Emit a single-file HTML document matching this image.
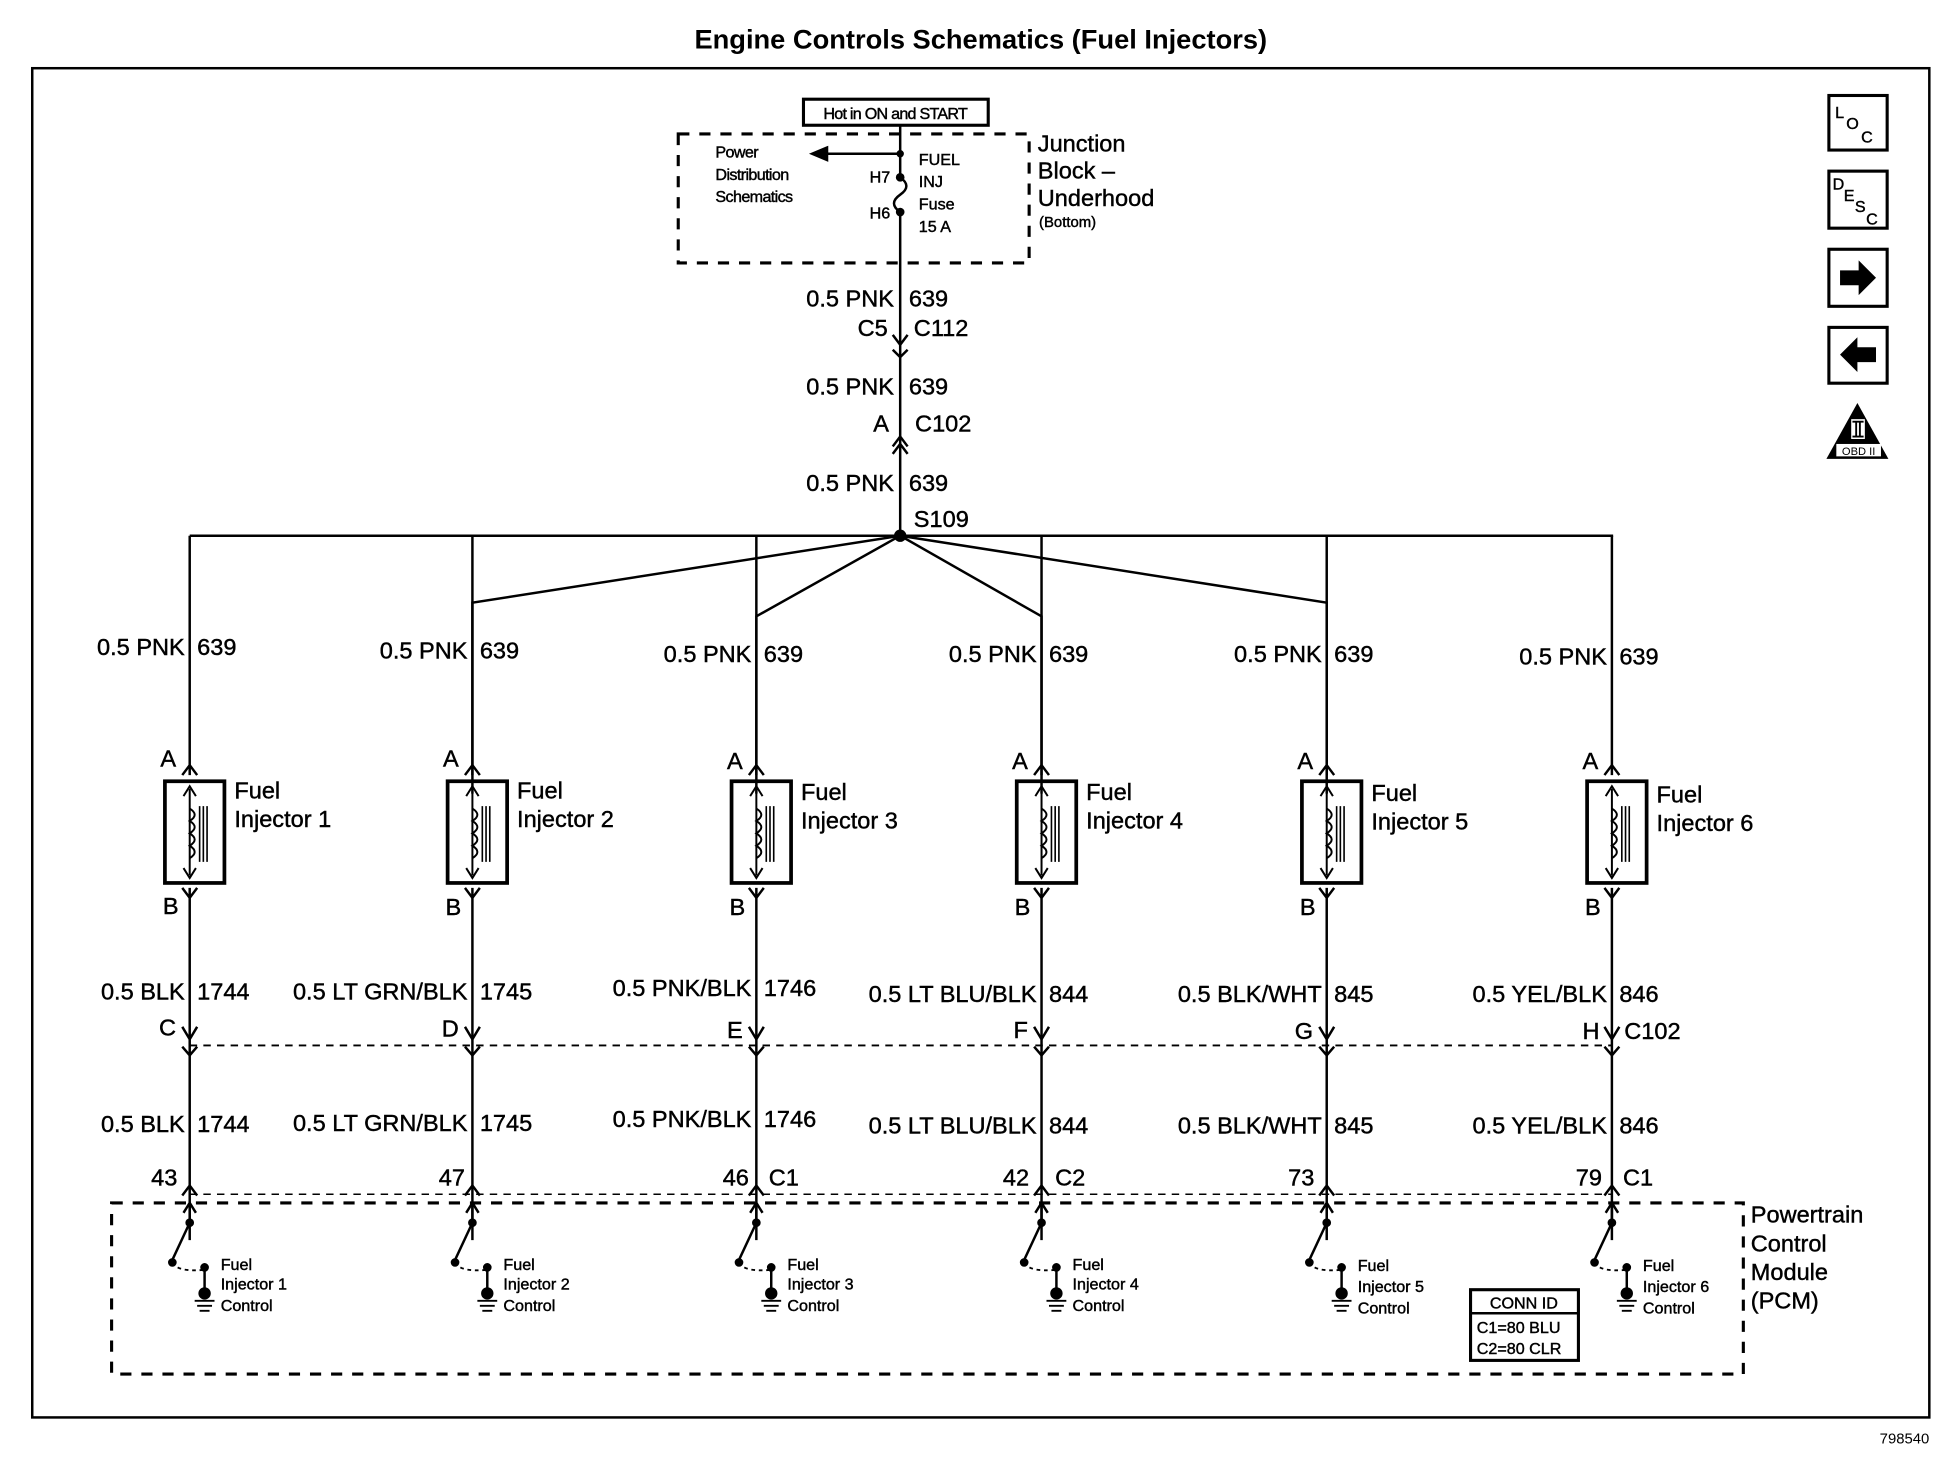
<!DOCTYPE html>
<html><head><meta charset="utf-8"><style>
html,body{margin:0;padding:0;background:#fff;}
svg{display:block;}
text{font-family:"Liberation Sans",Arial,sans-serif;fill:#000;stroke:#000;stroke-width:0.35;}
.t19{font-size:19px;}
.t13{font-size:13px;}
.t12{font-size:12px;}
.r{text-anchor:end;}
</style></head><body>
<svg width="1938" height="1472" viewBox="0 0 1563 1187" preserveAspectRatio="none" xmlns="http://www.w3.org/2000/svg">
<defs>
<g id="inj" fill="none" stroke="#000" stroke-width="2">
 <line x1="0" y1="432" x2="0" y2="625"/>
 <path d="M-6,625 L0,617 L6,625"/>
 <rect x="-20" y="630" width="48" height="82" stroke-width="3"/>
 <line x1="0" y1="636" x2="0" y2="706" stroke-width="1.6"/>
 <path d="M-5,642 L0,634 L5,642 M-5,700 L0,708 L5,700" stroke-width="1.6"/>
 <path d="M0,652 q8,5 0,10 q8,5 0,10 q8,5 0,10 q8,5 0,10" stroke-width="1.6"/>
 <path d="M8,650 V695 M11,650 V695 M14,650 V695" stroke-width="1.3"/>
 <path d="M-6,716 L0,724 L6,716"/>
 <line x1="0" y1="716" x2="0" y2="1000"/>
 <path d="M-6,828 L0,838 L6,828"/>
 <path d="M-6,844 L0,851 L6,844"/>
 <path d="M-6,964 L0,956 L6,964"/>
 <path d="M-5,978 L0,970 L5,978"/>
 <line x1="0" y1="970" x2="0" y2="985"/>
 <circle cx="0" cy="986" r="2.5" fill="#000"/>
 <line x1="0" y1="986" x2="-14" y2="1016"/>
 <circle cx="-14" cy="1018" r="2.5" fill="#000"/>
 <path d="M-14,1018 q4,8 26,6" stroke-dasharray="3,3" stroke-width="1.5"/>
 <circle cx="12" cy="1022" r="2.5" fill="#000"/>
 <line x1="12" y1="1022" x2="12" y2="1042"/>
 <circle cx="12" cy="1043" r="4" fill="#000"/>
 <path d="M4,1049 H20 M6,1053 H18 M8,1057 H16" stroke-width="1.5"/>
</g>
</defs>
<rect x="0" y="0" width="1563" height="1187" fill="#fff"/>
<text x="791" y="39" font-size="22" font-weight="bold" text-anchor="middle" style="stroke-width:0">Engine Controls Schematics (Fuel Injectors)</text>
<rect x="26" y="55" width="1530" height="1088" fill="none" stroke="#000" stroke-width="2"/>
<text x="1556" y="1164" class="t12 r" style="stroke-width:0">798540</text>

<!-- right icons -->
<g fill="none" stroke="#000" stroke-width="2.5">
<rect x="1475" y="77" width="47" height="44"/>
<rect x="1475" y="138" width="47" height="46"/>
<rect x="1475" y="201" width="47" height="46"/>
<rect x="1475" y="264" width="47" height="45"/>
</g>
<text x="1480" y="95" class="t13">L</text><text x="1489" y="104" class="t13">O</text><text x="1501" y="115" class="t13">C</text>
<text x="1478" y="153" class="t13">D</text><text x="1487" y="162" class="t13">E</text><text x="1496" y="171" class="t13">S</text><text x="1505" y="181" class="t13">C</text>
<path d="M1484,218 H1499 V210 L1513,224 L1499,238 V230 H1484 Z" fill="#000"/>
<path d="M1513,280 H1498 V272 L1484,286 L1498,300 V292 H1513 Z" fill="#000"/>
<path d="M1498,325 L1523,370 L1473,370 Z" fill="#000"/>
<rect x="1493" y="338" width="11" height="16" fill="#fff"/>
<path d="M1494,340 H1503 M1494,352 H1503 M1497,340 V352 M1500,340 V352" stroke="#000" stroke-width="1.5"/>
<rect x="1481" y="358" width="36" height="10" fill="#fff"/>
<text x="1499" y="367" font-size="9" text-anchor="middle" style="stroke-width:0">OBD II</text>

<!-- junction block -->
<rect x="648" y="80" width="149" height="21" fill="none" stroke="#000" stroke-width="2.5"/>
<text x="722" y="96" class="t13" text-anchor="middle" style="letter-spacing:-0.6px">Hot in ON and START</text>
<rect x="547" y="108" width="283" height="104" fill="none" stroke="#000" stroke-width="2.5" stroke-dasharray="9,8"/>
<g stroke="#000" stroke-width="2" fill="none">
<line x1="726" y1="101" x2="726" y2="143"/>
<line x1="726" y1="124" x2="665" y2="124"/>
<path d="M667,119 L655,124 L667,129 Z" fill="#000"/>
<path d="M726,143 q10,7 0,14 q-10,7 0,14"/>
<line x1="726" y1="171" x2="726" y2="432"/>
<circle cx="726" cy="143" r="2.5" fill="#000"/>
<circle cx="726" cy="171" r="2.5" fill="#000"/>
<circle cx="726" cy="124" r="2" fill="#000"/>
<path d="M720,270 L726,278 L732,270 M720,282 L726,288 L732,282"/>
<path d="M720,360 L726,352 L732,360 M720,366 L726,358 L732,366"/>
</g>
<text x="577" y="127" class="t13" style="letter-spacing:-0.5px">Power</text>
<text x="577" y="145" class="t13" style="letter-spacing:-0.5px">Distribution</text>
<text x="577" y="163" class="t13" style="letter-spacing:-0.5px">Schematics</text>
<text x="741" y="133" class="t13">FUEL</text>
<text x="741" y="151" class="t13">INJ</text>
<text x="741" y="169" class="t13">Fuse</text>
<text x="741" y="187" class="t13">15 A</text>
<text x="718" y="147" class="t13 r">H7</text>
<text x="718" y="176" class="t13 r">H6</text>
<text x="837" y="122" class="t19">Junction</text>
<text x="837" y="144" class="t19">Block –</text>
<text x="837" y="166" class="t19">Underhood</text>
<text x="838" y="183" class="t12">(Bottom)</text>

<text x="721" y="247" class="t19 r">0.5 PNK</text><text x="733" y="247" class="t19">639</text>
<text x="716" y="271" class="t19 r">C5</text><text x="737" y="271" class="t19">C112</text>
<text x="721" y="318" class="t19 r">0.5 PNK</text><text x="733" y="318" class="t19">639</text>
<text x="717" y="348" class="t19 r">A</text><text x="738" y="348" class="t19">C102</text>
<text x="721" y="396" class="t19 r">0.5 PNK</text><text x="733" y="396" class="t19">639</text>
<text x="737" y="425" class="t19">S109</text>

<!-- branches -->
<g stroke="#000" stroke-width="2" fill="none">
<line x1="153" y1="432" x2="1301" y2="432"/>
<polyline points="381,640 381,486 726,432 1070,486 1070,640"/>
<polyline points="610,640 610,497 726,432 840,497 840,640"/>
<line x1="153" y1="843" x2="1300" y2="843" stroke-dasharray="6,5" stroke-width="1.5"/>
<line x1="153" y1="963" x2="1300" y2="963" stroke-dasharray="6,5" stroke-width="1.2"/>
<rect x="90" y="970" width="1316" height="138" stroke-width="2.5" stroke-dasharray="9,8"/>
<rect x="1186" y="1040" width="87" height="57" stroke-width="2.5"/>
<line x1="1186" y1="1059" x2="1273" y2="1059" stroke-width="2"/>
</g>
<circle cx="726" cy="432" r="5" fill="#000"/>
<text x="1229" y="1055" class="t13" text-anchor="middle">CONN ID</text>
<text x="1191" y="1075" class="t13">C1=80 BLU</text>
<text x="1191" y="1092" class="t13">C2=80 CLR</text>
<text x="1412" y="986" class="t19">Powertrain</text>
<text x="1412" y="1009" class="t19">Control</text>
<text x="1412" y="1032" class="t19">Module</text>
<text x="1412" y="1055" class="t19">(PCM)</text>

<use href="#inj" transform="translate(153,0)"/>
<use href="#inj" transform="translate(381,0)"/>
<use href="#inj" transform="translate(610,0)"/>
<use href="#inj" transform="translate(840,0)"/>
<use href="#inj" transform="translate(1070,0)"/>
<use href="#inj" transform="translate(1300,0)"/>

<!-- column texts -->
<g class="t19">
<text x="149" y="528" class="t19 r">0.5 PNK</text><text x="159" y="528" class="t19">639</text>
<text x="377" y="531" class="t19 r">0.5 PNK</text><text x="387" y="531" class="t19">639</text>
<text x="606" y="534" class="t19 r">0.5 PNK</text><text x="616" y="534" class="t19">639</text>
<text x="836" y="534" class="t19 r">0.5 PNK</text><text x="846" y="534" class="t19">639</text>
<text x="1066" y="534" class="t19 r">0.5 PNK</text><text x="1076" y="534" class="t19">639</text>
<text x="1296" y="536" class="t19 r">0.5 PNK</text><text x="1306" y="536" class="t19">639</text>
</g>
<text x="142" y="618" class="t19 r">A</text><text x="370" y="618" class="t19 r">A</text><text x="599" y="620" class="t19 r">A</text><text x="829" y="620" class="t19 r">A</text><text x="1059" y="620" class="t19 r">A</text><text x="1289" y="620" class="t19 r">A</text>
<text x="189" y="644" class="t19">Fuel</text><text x="189" y="667" class="t19">Injector 1</text>
<text x="417" y="644" class="t19">Fuel</text><text x="417" y="667" class="t19">Injector 2</text>
<text x="646" y="645" class="t19">Fuel</text><text x="646" y="668" class="t19">Injector 3</text>
<text x="876" y="645" class="t19">Fuel</text><text x="876" y="668" class="t19">Injector 4</text>
<text x="1106" y="646" class="t19">Fuel</text><text x="1106" y="669" class="t19">Injector 5</text>
<text x="1336" y="647" class="t19">Fuel</text><text x="1336" y="670" class="t19">Injector 6</text>
<text x="144" y="737" class="t19 r">B</text><text x="372" y="738" class="t19 r">B</text><text x="601" y="738" class="t19 r">B</text><text x="831" y="738" class="t19 r">B</text><text x="1061" y="738" class="t19 r">B</text><text x="1291" y="738" class="t19 r">B</text>

<text x="149" y="806" class="t19 r">0.5 BLK</text><text x="159" y="806" class="t19">1744</text>
<text x="377" y="806" class="t19 r">0.5 LT GRN/BLK</text><text x="387" y="806" class="t19">1745</text>
<text x="606" y="803" class="t19 r">0.5 PNK/BLK</text><text x="616" y="803" class="t19">1746</text>
<text x="836" y="808" class="t19 r">0.5 LT BLU/BLK</text><text x="846" y="808" class="t19">844</text>
<text x="1066" y="808" class="t19 r">0.5 BLK/WHT</text><text x="1076" y="808" class="t19">845</text>
<text x="1296" y="808" class="t19 r">0.5 YEL/BLK</text><text x="1306" y="808" class="t19">846</text>

<text x="142" y="835" class="t19 r">C</text><text x="370" y="836" class="t19 r">D</text><text x="599" y="837" class="t19 r">E</text><text x="829" y="837" class="t19 r">F</text><text x="1059" y="838" class="t19 r">G</text><text x="1290" y="838" class="t19 r">H</text>
<text x="1310" y="838" class="t19">C102</text>

<text x="149" y="913" class="t19 r">0.5 BLK</text><text x="159" y="913" class="t19">1744</text>
<text x="377" y="912" class="t19 r">0.5 LT GRN/BLK</text><text x="387" y="912" class="t19">1745</text>
<text x="606" y="909" class="t19 r">0.5 PNK/BLK</text><text x="616" y="909" class="t19">1746</text>
<text x="836" y="914" class="t19 r">0.5 LT BLU/BLK</text><text x="846" y="914" class="t19">844</text>
<text x="1066" y="914" class="t19 r">0.5 BLK/WHT</text><text x="1076" y="914" class="t19">845</text>
<text x="1296" y="914" class="t19 r">0.5 YEL/BLK</text><text x="1306" y="914" class="t19">846</text>

<text x="143" y="956" class="t19 r">43</text>
<text x="375" y="956" class="t19 r">47</text>
<text x="604" y="956" class="t19 r">46</text><text x="620" y="956" class="t19">C1</text>
<text x="830" y="956" class="t19 r">42</text><text x="851" y="956" class="t19">C2</text>
<text x="1060" y="956" class="t19 r">73</text>
<text x="1292" y="956" class="t19 r">79</text><text x="1309" y="956" class="t19">C1</text>

<g class="t13">
<text x="178" y="1024" class="t13">Fuel</text><text x="178" y="1040" class="t13">Injector 1</text><text x="178" y="1057" class="t13">Control</text>
<text x="406" y="1024" class="t13">Fuel</text><text x="406" y="1040" class="t13">Injector 2</text><text x="406" y="1057" class="t13">Control</text>
<text x="635" y="1024" class="t13">Fuel</text><text x="635" y="1040" class="t13">Injector 3</text><text x="635" y="1057" class="t13">Control</text>
<text x="865" y="1024" class="t13">Fuel</text><text x="865" y="1040" class="t13">Injector 4</text><text x="865" y="1057" class="t13">Control</text>
<text x="1095" y="1025" class="t13">Fuel</text><text x="1095" y="1042" class="t13">Injector 5</text><text x="1095" y="1059" class="t13">Control</text>
<text x="1325" y="1025" class="t13">Fuel</text><text x="1325" y="1042" class="t13">Injector 6</text><text x="1325" y="1059" class="t13">Control</text>
</g>
</svg>
</body></html>
